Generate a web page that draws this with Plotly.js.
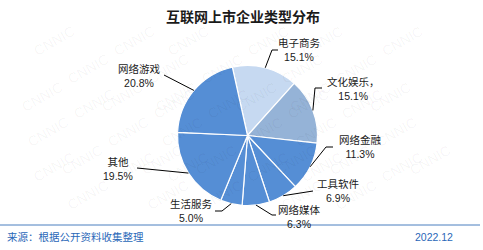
<!DOCTYPE html>
<html>
<head>
<meta charset="utf-8">
<script src="https://cdn.plot.ly/plotly-3.0.1.min.js"></script>
<style>html,body{margin:0;padding:0;background:#fff;}#chart{width:483px;height:250px;}</style>
</head>
<body>
<div id="chart"></div>
<script>
// ---- data ----
var categories = ["电子商务", "文化娱乐，", "网络金融", "工具软件", "网络媒体", "生活服务", "其他", "网络游戏"];
var values = [15.1, 15.1, 11.3, 6.9, 6.3, 5.0, 19.5, 20.8];
var titleText = "互联网上市企业类型分布";
var sourceText = "来源：根据公开资料收集整理";
var dateText = "2022.12";

// ---- layout geometry (px) ----
var W = 483, H = 250;
var CX = 247.5, CY = 135.5, R = 70;
var ROT = -12.5;
var colors = ["#C6D9F1", "#95B3D7", "#558ED5", "#558ED5", "#558ED5", "#558ED5", "#558ED5", "#558ED5"];
// label centre positions and leader anchors (px)
var labelPos = [[299, 50.5], [353, 88.5], [360, 147], [338, 190.5], [299, 216.5], [191, 211], [118, 168.5], [139, 76]];
var leaderAnchor = [[272, 50], [315, 88], [326, 147], [313, 191], [272, 215], [222, 211], [137, 168], [164, 75]];
var leaderStub = [6, 7, 7, 0, 4, -7, 0, 0];

var FONT = "Liberation Sans, Arial, Noto Sans CJK SC, sans-serif";
function px(x) { return x / W; }
function py(y) { return 1 - y / H; }

var total = values.reduce(function (a, b) { return a + b; }, 0);
var annotations = [];
var shapes = [];

// watermark (kept fully inside the picture)
for (var row = 0; row < 10; row++) {
  for (var col = 0; col < 7; col++) {
    var wx = 28 + col * 80 + (row % 2) * 40 - (row % 3) * 6;
    var wy = 20 + row * 28;
    if (wx > 456 || wy > 232) continue;
    annotations.push({
      x: px(wx), y: py(wy), xref: 'paper', yref: 'paper', showarrow: false,
      text: "CNNIC", textangle: -30,
      font: {family: FONT, size: 14, color: "rgba(0,0,0,0.045)"}
    });
  }
}

var cum = 0;
for (var i = 0; i < values.length; i++) {
  var mid = (ROT + (cum + values[i] / 2) / total * 360) * Math.PI / 180;
  cum += values[i];
  var ex = CX + R * Math.sin(mid), ey = CY - R * Math.cos(mid);
  var a = leaderAnchor[i];
  shapes.push({type: 'line', xref: 'paper', yref: 'paper', x0: px(ex), y0: py(ey), x1: px(a[0]), y1: py(a[1]),
    line: {color: "#000", width: 1}});
  if (leaderStub[i] !== 0) {
    shapes.push({type: 'line', xref: 'paper', yref: 'paper', x0: px(a[0]), y0: py(a[1]), x1: px(a[0] + leaderStub[i]), y1: py(a[1]),
      line: {color: "#000", width: 1}});
  }
  annotations.push({
    x: px(labelPos[i][0]), y: py(labelPos[i][1]), xref: 'paper', yref: 'paper', showarrow: false,
    xanchor: 'center', yanchor: 'middle',
    text: categories[i] + "<br>" + values[i].toFixed(1) + "%",
    font: {family: FONT, size: 10.5, color: "#1a1a1a"}
  });
}

// footer
shapes.push({type: 'line', xref: 'paper', yref: 'paper', x0: 0, x1: px(480), y0: py(225), y1: py(225),
  line: {color: "#4a7ebf", width: 1}});
annotations.push({x: px(5), y: py(237), xref: 'paper', yref: 'paper', showarrow: false, xanchor: 'left', yanchor: 'middle',
  text: sourceText, font: {family: FONT, size: 10.5, color: "#2a68b8"}});
annotations.push({x: px(455), y: py(237), xref: 'paper', yref: 'paper', showarrow: false, xanchor: 'right', yanchor: 'middle',
  text: dateText, font: {family: FONT, size: 10.5, color: "#2a68b8"}});

var trace = {
  type: 'pie',
  labels: categories,
  values: values,
  sort: false,
  direction: 'clockwise',
  rotation: ROT,
  textinfo: 'none',
  hoverinfo: 'none',
  marker: {colors: colors, line: {color: "#ffffff", width: 1.2}},
  domain: {x: [px(CX - R), px(CX + R)], y: [py(CY + R), py(CY - R)]},
  showlegend: false
};

var layout = {
  width: W, height: H,
  margin: {l: 0, r: 0, t: 0, b: 0},
  paper_bgcolor: "#ffffff",
  title: {text: "<b>" + titleText + "</b>", x: px(243), xanchor: 'center', y: py(17), yanchor: 'middle',
    font: {family: FONT, size: 14, color: "#1a1a1a"}},
  annotations: annotations,
  shapes: shapes
};

Plotly.newPlot('chart', [trace], layout, {displayModeBar: false, staticPlot: true});
</script>
</body>
</html>
